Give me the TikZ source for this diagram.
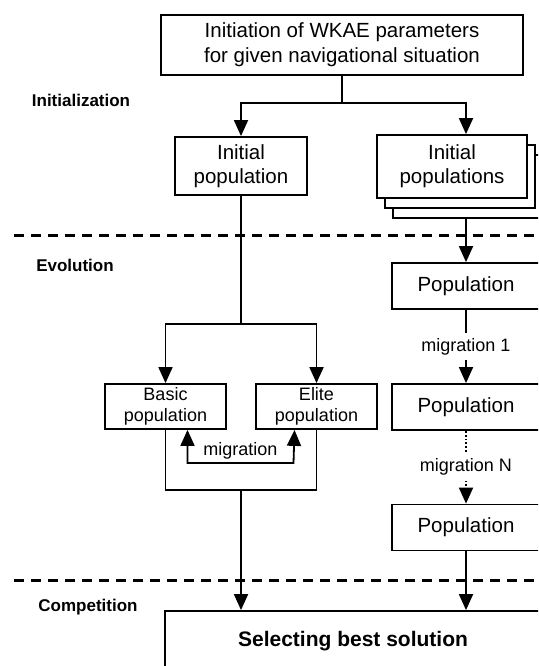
\documentclass[tikz,border=0pt]{standalone}
\usepackage{fontspec}
\setmainfont{Liberation Sans}
\usetikzlibrary{arrows.meta,positioning,shadows}

\begin{document}
\begin{tikzpicture}[x=1pt, y=-1pt, line width=1.8pt, >={Triangle[length=16pt,width=14pt]},
   box/.style={draw, fill=white, align=center, inner sep=2pt, font=\fontsize{20.5}{24}\selectfont},
   smallbox/.style={box, font=\fontsize{18}{21}\selectfont},
   stage/.style={font=\fontsize{17}{20}\selectfont\bfseries},
   lbl/.style={fill=white, inner sep=5pt, font=\fontsize{18}{21}\selectfont},
   phase/.style={dash pattern=on 10pt off 7pt, line width=3pt}]
   \useasboundingbox (0,0) rectangle (538,666);
   \clip (0,0) rectangle (538,666);

   % stages
   \node[stage] (sInit) at (81,100) {Initialization};
   \node[stage] (sEvo)  at (75,265) {Evolution};
   \node[stage] (sComp) at (88,607) {Competition};
   \draw[phase] (14,235) -- (538,235);
   \draw[phase] (14,580) -- (538,580);

   \node[box, minimum width=362pt, minimum height=60pt, font=\fontsize{20.5}{25}\selectfont] (init) at (342,45)
      {Initiation of WKAE parameters\\for given navigational situation};
   \node[box, minimum width=132pt, minimum height=58pt] (ipop) at (241,166) {Initial\\population};
   \node[box, minimum width=150pt, minimum height=63pt,
         double copy shadow={shadow xshift=8pt, shadow yshift=-10pt}] (ipops) at (452,166.5) {Initial\\populations};

   % right column
   \node[box, minimum width=148pt, minimum height=46pt] (pop1) at (466,286) {Population};
   \node[box, minimum width=148pt, minimum height=46pt, node distance=121pt, on grid] (pop2) [below=of pop1] {Population};
   \node[box, minimum width=148pt, minimum height=46pt, node distance=120.5pt, on grid] (pop3) [below=of pop2] {Population};

   % left column
   \node[smallbox, minimum width=121pt, minimum height=45pt] (basic) at (165.5,406.5) {Basic\\population};
   \node[smallbox, minimum width=121pt, minimum height=45pt, node distance=151pt, on grid] (elite) [right=of basic] {Elite\\population};

   \node[box, minimum width=376pt, minimum height=60pt, font=\fontsize{21}{24}\selectfont\bfseries] (select) at (353,641)
      {Selecting best solution};

   \coordinate (split1) at (342,103);
   \coordinate (split2) at (241,324);
   \coordinate (join)   at (241,490);
   \coordinate (stackbot) at ([yshift=-20pt]ipops.south);

   \draw (init) -- (split1);
   \draw[->] (split1) -| (ipop);
   \draw[->] (split1) -| (pop1 |- ipops.north);
   \draw[->] (stackbot -| pop1) -- (pop1);
   \path[->] (pop1) edge node[lbl] {migration 1} (pop2);
   \path[->, dotted] (pop2) edge node[lbl] {migration N} (pop3);
   \draw[->] (pop3) -- (pop3 |- select.north);

   \draw (ipop) -- (split2);
   \draw[->] (split2) -| (basic);
   \draw[->] (split2) -| (elite);
   \draw[<->] ([xshift=22pt]basic.south) -- ++(0,33)
      -- node[above, inner sep=3pt, font=\fontsize{18}{21}\selectfont] {migration} ++(106,0)
      -- ([xshift=-22pt]elite.south);
   \draw (basic) -- (basic |- join) -- (elite |- join) -- (elite);
   \draw[->] (join) -- (join |- select.north);
\end{tikzpicture}
\end{document}
